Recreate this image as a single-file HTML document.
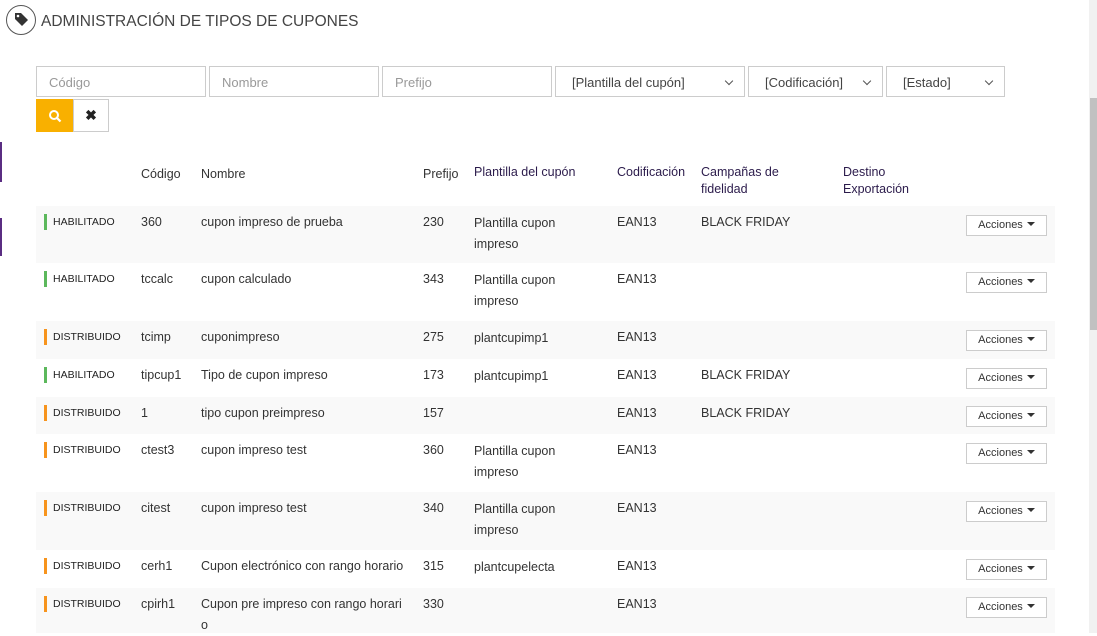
<!DOCTYPE html><html><head><meta charset="utf-8"><style>
body{margin:0;width:1097px;height:633px;overflow:hidden;background:#fff;font-family:"Liberation Sans",sans-serif;position:relative;color:#333}
.a{position:absolute;white-space:nowrap}
.inp{position:absolute;top:66px;height:31px;border:1px solid #ccc;box-sizing:border-box;font-size:13px;color:#999;padding:8px 0 0 12px}
.sel{color:#444;padding-left:16px}
.sel:after{content:"";position:absolute;right:12px;top:11px;width:5px;height:5px;border-right:1.3px solid #555;border-bottom:1.3px solid #555;transform:rotate(45deg)}
.row{position:absolute;left:36px;width:1019px}
.c{position:absolute;font-size:12.5px;line-height:21px;color:#333}
.st{position:absolute;left:8px;width:3px;height:16px}
.stt{position:absolute;left:17px;font-size:10.5px;color:#222}
.btn{position:absolute;left:930px;width:81px;height:21px;border:1px solid #ccc;box-sizing:border-box;background:#fff;font-size:11px;color:#333;text-align:center;line-height:19px}
.btn:after{content:"";display:inline-block;margin-left:4px;border-left:4px solid transparent;border-right:4px solid transparent;border-top:4px solid #333;vertical-align:2px}
.h{position:absolute;top:164px;font-size:12.5px;line-height:17px}
</style></head><body>
<div class="a" style="left:6px;top:5px;width:30px;height:30px;border:1.5px solid #555;border-radius:50%;box-sizing:border-box"></div>
<svg class="a" style="left:12px;top:11px" width="18" height="18" viewBox="0 0 18 18"><path d="M3 2 L9 2 L16 9 L10 15 L3 8 Z" fill="#333"/><circle cx="6" cy="5" r="1.3" fill="#fff"/></svg>
<div class="a" style="left:41px;top:13px;font-size:15.5px;color:#444">ADMINISTRACIÓN DE TIPOS DE CUPONES</div>
<div class="a" style="left:0;top:142px;width:2px;height:40px;background:#5a2d82"></div>
<div class="a" style="left:0;top:218px;width:2px;height:38px;background:#5a2d82"></div>
<div class="inp" style="left:36px;width:170px">Código</div>
<div class="inp" style="left:209px;width:170px">Nombre</div>
<div class="inp" style="left:382px;width:170px">Prefijo</div>
<div class="inp sel" style="left:555px;width:190px">[Plantilla del cupón]</div>
<div class="inp sel" style="left:748px;width:135px">[Codificación]</div>
<div class="inp sel" style="left:886px;width:119px">[Estado]</div>
<div class="a" style="left:36px;top:99px;width:37px;height:33px;background:#f9b000"></div>
<svg class="a" style="left:48px;top:109px" width="14" height="14"><circle cx="6" cy="6" r="4" stroke="#fff" stroke-width="2" fill="none"/><line x1="9" y1="9" x2="12.5" y2="12.5" stroke="#fff" stroke-width="2.2"/></svg>
<div class="a" style="left:73px;top:99px;width:36px;height:33px;border:1px solid #ccc;box-sizing:border-box;text-align:center;font-size:14px;font-weight:bold;line-height:31px;color:#222">✖</div>
<div class="h" style="left:141px;top:166px">Código</div>
<div class="h" style="left:201px;top:166px">Nombre</div>
<div class="h" style="left:423px;top:166px">Prefijo</div>
<div class="h" style="left:474px;color:#2b1b4b">Plantilla del cupón</div>
<div class="h" style="left:617px;color:#2b1b4b">Codificación</div>
<div class="h" style="left:701px;color:#2b1b4b">Campañas de<br>fidelidad</div>
<div class="h" style="left:843px;color:#2b1b4b">Destino<br>Exportación</div>
<div id="rows"></div>
<div class="a" style="left:1089px;top:0;width:8px;height:633px;background:#f1f1f1"></div>
<div class="a" style="left:1090px;top:98px;width:7px;height:232px;background:#c1c1c1"></div>
<script>
var G="#5cb85c",O="#f7941d";
var R=[[206,57,"HABILITADO",G,"360","cupon impreso de prueba","230","Plantilla cupon<br>impreso","BLACK FRIDAY"],
[263,58,"HABILITADO",G,"tccalc","cupon calculado","343","Plantilla cupon<br>impreso",""],
[321,38,"DISTRIBUIDO",O,"tcimp","cuponimpreso","275","plantcupimp1",""],
[359,38,"HABILITADO",G,"tipcup1","Tipo de cupon impreso","173","plantcupimp1","BLACK FRIDAY"],
[397,37,"DISTRIBUIDO",O,"1","tipo cupon preimpreso","157","","BLACK FRIDAY"],
[434,58,"DISTRIBUIDO",O,"ctest3","cupon impreso test","360","Plantilla cupon<br>impreso",""],
[492,58,"DISTRIBUIDO",O,"citest","cupon impreso test","340","Plantilla cupon<br>impreso",""],
[550,38,"DISTRIBUIDO",O,"cerh1","Cupon electrónico con rango horario","315","plantcupelecta",""],
[588,45,"DISTRIBUIDO",O,"cpirh1","Cupon pre impreso con rango horari<br>o","330","",""]];
var h="";R.forEach(function(r,i){
h+='<div class="row" style="top:'+r[0]+'px;height:'+r[1]+'px;background:'+(i%2==0?'#f9f9f9':'#fff')+'">'+
'<div class="st" style="top:8px;background:'+r[3]+'"></div>'+
'<div class="stt" style="top:10px">'+r[2]+'</div>'+
'<div class="c" style="left:105px;top:6px">'+r[4]+'</div>'+
'<div class="c" style="left:165px;top:6px">'+r[5]+'</div>'+
'<div class="c" style="left:387px;top:6px">'+r[6]+'</div>'+
'<div class="c" style="left:438px;top:7px">'+r[7]+'</div>'+
'<div class="c" style="left:581px;top:6px">EAN13</div>'+
'<div class="c" style="left:665px;top:6px">'+r[8]+'</div>'+
'<div class="btn" style="top:9px">Acciones</div></div>';});
document.getElementById("rows").innerHTML=h;
</script>
</body></html>
